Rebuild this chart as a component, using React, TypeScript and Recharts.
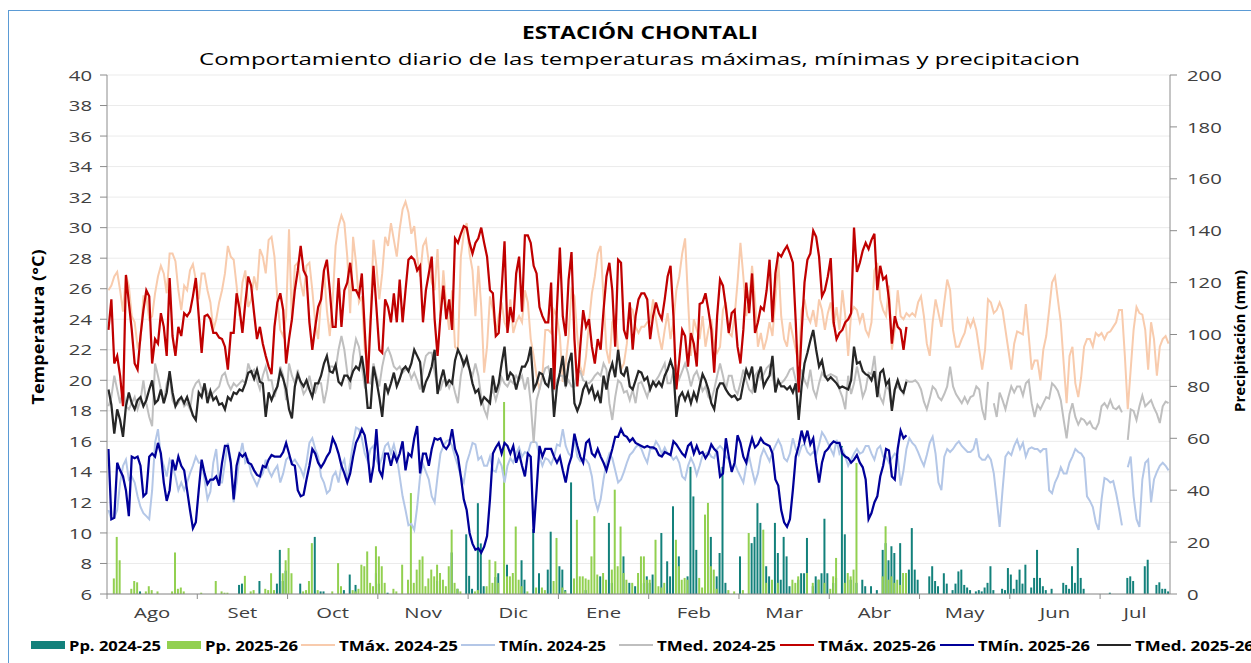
import React from 'react';
import { ComposedChart, Line, Bar, XAxis, YAxis, CartesianGrid } from 'recharts';

// season runs Aug 1 -> Jul 31, one entry per day
const MONTHS = ['Ago', 'Set', 'Oct', 'Nov', 'Dic', 'Ene', 'Feb', 'Mar', 'Abr', 'May', 'Jun', 'Jul'];
const MONTH_START = [0, 31, 62, 93, 124, 155, 186, 217, 248, 279, 310, 341];
const N_DAYS = 365;
const TEMP_TICKS = [6, 8, 10, 12, 14, 16, 18, 20, 22, 24, 26, 28, 30, 32, 34, 36, 38, 40];
const PP_TICKS = [0, 20, 40, 60, 80, 100, 120, 140, 160, 180, 200];

const TMAX_2024_25 = [
  25.9, 26.2, 26.8, 27.1, 25.9, 24.5, 26.9, 26.2, 24.2, 23.8,
  22.2, 22.6, 25.5, 25.5, 24.0, 24.2, 25.7, 26.8, 27.5, 27.0,
  25.7, 28.3, 28.3, 27.8, 25.9, 24.6, 26.2, 25.9, 27.2, 27.6,
  26.6, 25.3, 27.0, 27.0, 25.9, 25.1, 23.3, 24.0, 25.1, 25.9,
  27.0, 28.8, 28.1, 27.9, 26.2, 24.2, 26.4, 27.2, 24.8, 25.3,
  26.8, 25.9, 28.6, 28.1, 27.0, 29.2, 29.4, 28.1, 25.3, 23.3,
  22.9, 24.2, 29.9, 23.8, 27.5, 27.7, 26.4, 25.5, 27.5, 27.7,
  25.9, 23.8, 22.7, 25.3, 27.2, 24.6, 22.9, 25.3, 28.8, 30.1,
  30.8, 30.3, 28.1, 24.4, 29.4, 27.7, 25.1, 25.5, 22.0, 21.1,
  24.2, 29.2, 27.5, 25.3, 27.0, 29.4, 28.8, 30.3, 29.2, 28.1,
  29.9, 31.2, 31.7, 31.0, 29.6, 30.1, 28.1, 26.8, 28.8, 29.2,
  27.7, 26.4, 25.9, 28.6, 24.2, 27.2, 24.8, 23.3, 25.9, 22.2,
  22.0, 28.1, 29.6, 30.3, 28.3, 27.2, 24.2, 27.5, 24.8, 20.5,
  22.2, 25.5, 24.6, 23.1, 24.2, 25.1, 23.8, 23.3, 25.3, 23.1,
  23.8, 24.2, 23.8, 25.9, 25.1, 22.7, 21.6, 20.3, 19.4, 20.3,
  23.3, 23.3, 23.1, 24.6, 24.2, 22.9, 19.9, 21.1, 22.9, 25.9,
  25.5, 22.9, 20.9, 20.3, 21.6, 23.8, 25.7, 26.8, 28.3, 28.8,
  25.3, 22.0, 21.1, 23.8, 24.2, 22.0, 20.7, 21.1, 22.4, 24.8,
  24.6, 23.5, 23.1, 23.5, 23.5, 23.8, 23.8, 25.3, 24.0, 22.9,
  22.0, 23.3, 24.4, 22.7, 23.8, 25.9, 26.8, 28.3, 29.3, 25.3,
  21.6, 24.0, 23.3, 22.7, 24.2, 22.2, 23.3, 24.0, 22.3, 21.8,
  22.2, 24.6, 25.1, 23.1, 22.9, 24.2, 26.4, 29.0, 26.8, 24.2,
  25.3, 27.5, 25.3, 22.2, 23.1, 22.0, 22.7, 23.8, 22.9, 25.3,
  27.9, 24.2, 22.7, 22.2, 23.8, 22.9, 22.0, 21.1, 24.6, 25.3,
  24.2, 23.8, 24.6, 23.5, 25.3, 24.6, 23.3, 24.4, 25.1, 23.5,
  24.8, 23.3, 25.9, 24.2, 21.6, 24.4, 24.8, 24.6, 23.8, 24.4,
  23.3, 22.9, 23.8, 27.2, 27.7, 25.3, 24.6, 24.2, 26.2, 22.0,
  23.3, 25.9, 24.2, 24.0, 24.4, 24.2, 24.4, 24.2, 25.1, 25.5,
  24.2, 22.4, 21.6, 23.8, 25.3, 24.4, 23.5, 25.1, 26.6, 25.9,
  23.3, 22.2, 22.2, 22.7, 23.1, 24.0, 23.5, 24.0, 23.3, 22.0,
  20.7, 22.0, 25.3, 25.1, 24.4, 24.6, 25.1, 24.6, 23.3, 22.0,
  20.7, 22.4, 23.2, 23.1, 23.0, 25.0, 22.9, 20.7, 21.3, 21.3,
  20.0, 22.0, 22.9, 24.6, 26.4, 26.8, 25.3, 23.8, 21.1, 18.5,
  21.6, 22.2, 19.8, 18.9, 20.2, 22.2, 22.7, 22.7, 22.2, 23.1,
  22.9, 23.1, 22.7, 23.1, 23.2, 23.5, 23.8, 24.6, 24.6, 21.6,
  18.1, 20.7, 23.3, 24.8, 24.4, 24.3, 23.3, 20.7, 23.8, 22.7,
  20.3, 22.2, 22.7, 22.9, 22.4,
];

const TMIN_2024_25 = [
  11.5, 10.9, 11.0, 11.5, 13.3, 14.4, 14.8, 13.5, 13.7, 13.3,
  12.4, 11.7, 11.3, 11.1, 10.9, 12.8, 15.9, 16.8, 15.0, 14.4,
  13.7, 14.8, 14.4, 13.7, 12.8, 13.3, 12.8, 13.3, 13.9, 14.4,
  15.0, 14.6, 14.6, 13.5, 12.2, 12.7, 14.6, 15.5, 13.3, 13.3,
  14.6, 15.9, 14.8, 12.0, 13.3, 15.0, 15.9, 14.6, 14.8, 13.9,
  13.5, 13.1, 13.6, 13.9, 14.8, 14.1, 13.7, 14.1, 14.4, 13.3,
  13.9, 14.8, 15.0, 14.6, 14.8, 14.5, 14.2, 13.7, 14.6, 15.9,
  16.2, 15.5, 15.0, 13.7, 13.3, 12.6, 12.8, 13.7, 14.0, 13.3,
  14.4, 14.8, 13.5, 14.6, 15.9, 16.9, 16.8, 16.2, 15.2, 14.7,
  15.5, 15.7, 14.8, 14.4, 15.0, 15.7, 15.9, 15.2, 15.8, 15.0,
  13.7, 12.4, 11.5, 10.5, 10.6, 10.2, 11.7, 13.7, 14.5, 14.0,
  13.5, 12.4, 12.0, 13.7, 15.2, 15.7, 16.0, 16.1, 15.7, 15.0,
  14.4, 13.7, 13.3, 14.6, 15.2, 15.9, 15.8, 14.8, 15.0, 14.4,
  14.4, 15.0, 14.1, 14.0, 14.8, 14.4, 13.3, 14.4, 14.9, 14.6,
  15.2, 15.6, 15.0, 15.3, 15.2, 15.9, 16.0, 15.9, 15.0, 14.4,
  14.9, 14.8, 14.5, 15.0, 15.8, 15.7, 16.8, 15.7, 15.2, 15.0,
  16.1, 15.0, 14.7, 14.9, 14.8, 14.5, 13.7, 12.2, 11.5, 12.2,
  13.5, 14.6, 15.2, 14.9, 14.1, 13.3, 13.5, 14.0, 14.6, 15.1,
  15.3, 15.6, 15.8, 15.5, 15.0, 14.6, 15.5, 15.5, 16.0, 15.7,
  15.2, 15.6, 15.2, 15.1, 14.8, 15.0, 14.6, 13.7, 13.5, 14.4,
  14.9, 14.5, 13.8, 14.4, 15.1, 15.2, 15.3, 15.0, 14.9, 15.5,
  15.7, 15.5, 15.0, 14.8, 14.1, 14.6, 14.1, 13.7, 13.3, 14.4,
  15.0, 14.1, 13.3, 13.9, 15.0, 15.5, 15.1, 14.7, 15.3, 15.7,
  16.1, 15.7, 14.9, 14.7, 15.2, 16.2, 15.5, 15.1, 15.7, 15.8,
  15.3, 15.1, 15.3, 15.1, 15.8, 16.6, 16.3, 15.9, 15.5, 15.1,
  16.1, 15.2, 15.5, 15.0, 14.4, 14.8, 15.2, 15.5, 15.2, 15.3,
  15.7, 15.7, 15.2, 14.8, 15.5, 15.7, 15.0, 15.0, 14.6, 14.9,
  15.2, 15.0, 13.1, 14.1, 15.5, 16.2, 15.9, 15.7, 15.3, 14.8,
  14.4, 15.1, 15.9, 16.3, 15.2, 13.3, 12.8, 15.0, 15.5, 15.3,
  15.5, 15.8, 16.0, 15.7, 15.5, 15.3, 15.3, 15.5, 16.2, 15.0,
  14.8, 14.8, 15.1, 14.8, 13.9, 12.2, 10.4, 12.8, 15.0, 15.3,
  15.1, 15.7, 16.1, 15.5, 15.9, 15.0, 15.5, 15.6, 15.5, 15.5,
  15.3, 15.5, 15.5, 12.8, 12.6, 13.3, 13.7, 14.3, 13.9, 13.9,
  14.6, 15.0, 15.5, 15.3, 15.2, 14.9, 12.4, 12.1, 11.7, 10.7,
  10.2, 12.2, 13.6, 13.5, 13.3, 13.4, 12.6, 11.6, 10.5, null,
  14.3, 15.0, 12.4, 10.9, 10.4, 13.5, 14.6, 14.8, 12.0, 13.5,
  14.0, 14.4, 14.6, 14.4, 14.1,
];

const TMED_2024_25 = [
  18.3, 18.9, 20.3, 19.4, 18.5, 19.4, 18.3, 18.1, 18.5, 18.9,
  18.1, 18.7, 20.0, 18.5, 17.6, 17.0, 21.1, 20.3, 19.4, 18.5,
  19.8, 20.3, 18.7, 18.3, 18.5, 18.9, 18.3, 18.5, 18.1, 19.4,
  19.8, 20.0, 19.4, 19.6, 19.2, 18.9, 19.2, 19.4, 19.6, 20.3,
  20.5, 19.8, 19.4, 19.8, 19.6, 19.8, 20.0, 19.8, 21.1, 20.5,
  20.7, 20.0, 19.4, 20.3, 20.9, 20.0, 20.0, 18.9, 19.6, 20.9,
  20.3, 18.7, 21.1, 20.3, 19.8, 20.7, 19.8, 19.1, 19.4, 20.3,
  19.4, 19.2, 19.8, 19.8, 18.5, 19.4, 20.9, 20.9, 20.7, 22.0,
  22.9, 22.0, 20.5, 19.4, 21.6, 22.7, 22.2, 20.9, 19.6, 19.9,
  19.8, 21.1, 20.3, 19.6, 20.9, 21.8, 22.1, 21.6, 20.9, 20.7,
  20.9, 20.5, 20.7, 20.7, 20.1, 20.5, 20.0, 19.4, 20.7, 21.6,
  21.8, 21.8, 20.5, 19.6, 19.4, 20.0, 20.0, 19.5, 20.0, 19.2,
  18.5, 20.3, 21.3, 21.1, 20.7, 20.3, 21.1, 20.3, 18.9, 18.1,
  17.6, 18.9, 19.4, 18.7, 19.4, 20.2, 19.8, 19.6, 20.0, 19.8,
  20.3, 20.0, 20.3, 19.4, 20.2, 18.5, 15.9, 18.7, 19.4, 20.2,
  20.8, 20.9, 20.0, 19.4, 20.0, 20.3, 20.3, 19.6, 20.0, 19.6,
  19.6, 20.5, 20.6, 20.0, 19.9, 19.8, 20.0, 20.3, 20.5, 20.3,
  21.1, 20.7, 18.5, 17.4, 18.9, 20.0, 19.8, 19.2, 19.3, 18.7,
  19.4, 18.5, 19.8, 19.9, 19.4, 18.9, 19.6, 19.8, 20.0, 20.3,
  20.7, 21.1, 19.8, 19.8, 20.6, 20.9, 20.1, 20.6, 21.1, 20.5,
  19.6, 20.3, 20.6, 20.0, 19.3, 19.6, 18.9, 18.7, 19.4, 20.3,
  21.1, 20.3, 19.4, 20.3, 20.3, 19.4, 19.1, 19.8, 20.7, 20.0,
  19.4, 19.2, 20.3, 20.6, 20.1, 20.4, 20.8, 21.0, 20.3, 19.4,
  19.8, 19.8, 20.0, 20.3, 20.7, 20.8, 20.0, 19.6, 20.7, 20.0,
  19.6, 20.7, 19.4, 18.9, 19.8, 20.5, 20.2, 20.3, 20.4, 20.3,
  20.2, 19.4, 18.9, 18.1, 20.3, 19.1, 19.8, 20.9, 20.0, 18.9,
  19.4, 20.5, 20.4, 21.6, 19.6, 18.9, 18.5, 19.6, 19.4, 18.1,
  19.4, 19.6, 19.4, 19.1, 20.0, 19.9, 19.9, 20.0, 19.8, 19.4,
  18.6, 18.1, 18.8, 19.6, 19.4, 18.9, 18.7, 19.1, 19.6, 20.9,
  19.6, 19.1, 18.8, 18.5, 18.9, 18.5, 18.9, 19.0, 19.6, 19.4,
  18.1, 17.4, 19.9, null, 18.5, 17.6, 19.2, 18.7, 18.1, 18.9,
  19.6, 19.2, 19.6, 19.6, 19.0, 19.8, 20.0, 18.5, 17.6, 18.4,
  18.1, 18.5, 18.9, 18.8, 19.8, 19.6, 19.3, 18.7, 17.4, 16.2,
  17.8, 18.5, 17.6, 17.1, 17.5, 17.4, 17.1, 17.3, 16.9, 16.8,
  17.2, 18.3, 18.5, 18.2, 18.7, 18.2, 18.1, 18.3, 17.9, null,
  16.1, 18.1, 18.0, 17.4, 18.3, 19.0, 18.3, 18.5, 18.7, 18.2,
  17.8, 17.2, 18.3, 18.6, 18.5,
];

const TMAX_2025_26 = [
  23.3, 25.3, 21.1, 21.6, 20.3, 18.3, 26.9, 25.1, 23.3, 21.1,
  20.7, 22.9, 24.6, 25.9, 25.5, 21.1, 22.7, 22.4, 24.4, 23.5,
  21.6, 26.7, 22.9, 21.6, 23.5, 22.9, 24.4, 24.2, 24.5, 25.5,
  26.7, 24.2, 21.8, 24.2, 24.3, 24.0, 23.1, 23.1, 22.8, 22.7,
  22.2, 20.7, 23.1, 23.1, 25.7, 24.7, 23.1, 25.1, 26.8, 26.2,
  24.4, 22.7, 23.5, 22.4, 21.6, 20.9, 20.4, 23.5, 25.1, 25.7,
  24.6, 21.1, 22.7, 24.0, 25.9, 27.2, 28.8, 27.2, 26.8, 23.8,
  22.0, 23.5, 24.8, 25.3, 27.2, 27.9, 25.9, 23.5, 23.5, 26.7,
  23.5, 25.9, 26.4, 27.7, 25.9, 25.9, 25.5, 27.0, 23.3, 19.8,
  23.8, 27.5, 24.8, 22.0, 21.8, 25.3, 24.8, 23.8, 25.7, 23.8,
  26.6, 23.8, 25.9, 27.9, 28.1, 27.9, 27.2, 27.5, 23.8, 25.9,
  27.0, 28.1, 24.0, 21.6, 24.2, 26.2, 24.0, 25.3, 23.3, 29.3,
  29.0, 29.6, 30.1, 30.0, 29.0, 28.3, 29.0, 29.3, 30.0, 29.0,
  28.1, 25.9, 25.7, 22.9, 23.1, 25.9, 29.1, 23.1, 24.8, 23.8,
  27.0, 28.1, 24.5, 29.5, 29.5, 29.0, 27.5, 27.0, 24.8, 24.2,
  23.8, 23.8, 26.4, 19.4, 24.8, 28.7, 24.2, 22.9, 26.6, 28.4,
  22.7, 19.6, 22.2, 24.6, 23.5, 24.0, 22.2, 21.1, 22.7, 22.0,
  24.6, 26.8, 27.7, 25.9, 22.2, 27.9, 27.7, 23.3, 22.7, 25.1,
  22.0, 24.2, 25.3, 25.7, 25.7, 25.3, 22.7, 24.2, 25.1, 24.4,
  24.0, 25.3, 26.8, 27.5, 24.2, 19.4, 21.3, 23.3, 22.9, 20.9,
  23.1, 22.4, 20.9, 25.0, 25.1, 25.7, 24.6, 23.3, 20.5, 24.2,
  26.6, 26.2, 24.8, 23.1, 24.4, 24.6, 22.2, 21.1, 23.3, 26.4,
  24.4, 27.0, 23.1, 23.8, 24.8, 24.6, 25.9, 27.9, 23.8, 27.0,
  28.3, 28.1, 28.5, 28.8, 28.3, 27.7, 23.8, 19.2, 23.1, 26.4,
  27.9, 28.3, 29.8, 29.4, 28.1, 25.5, 25.9, 26.8, 28.0, 23.8,
  22.7, 23.1, 23.3, 23.8, 24.0, 24.4, 30.0, 27.1, 27.7, 28.5,
  29.0, 28.6, 29.2, 29.6, 25.9, 27.5, 26.6, 26.8, 25.3, 22.4,
  24.2, 23.5, 23.3, 22.0, 23.5,
];

const TMIN_2025_26 = [
  15.5, 10.9, 11.0, 14.6, 14.1, 13.7, 12.8, 11.1, 15.0, 14.9,
  15.0, 14.4, 12.4, 12.6, 15.0, 15.2, 15.0, 15.9, 15.2, 13.3,
  12.1, 12.8, 14.8, 14.1, 15.0, 14.4, 14.1, 12.8, 11.5, 10.3,
  10.7, 12.8, 14.8, 13.9, 13.2, 13.5, 13.5, 13.7, 13.1, 14.6,
  15.7, 15.7, 14.6, 12.2, 14.4, 15.2, 15.0, 15.2, 14.6, 14.5,
  14.1, 13.8, 13.7, 14.4, 14.3, 14.8, 15.1, 15.0, 15.0, 15.0,
  15.3, 15.9, 15.2, 14.5, 14.4, 12.8, 12.4, 12.5, 13.5, 14.4,
  15.5, 15.2, 14.6, 14.3, 14.6, 15.0, 15.3, 16.2, 15.8, 15.2,
  14.4, 13.9, 13.3, 13.9, 15.0, 15.9, 16.3, 16.8, 16.4, 15.2,
  13.3, 14.4, 16.8, 14.1, 13.7, 15.2, 15.2, 14.4, 15.2, 14.7,
  15.2, 16.0, 14.1, 15.2, 15.0, 16.2, 17.0, 13.9, 15.2, 15.2,
  14.4, 15.5, 16.2, 16.1, 16.2, 15.7, 15.5, 15.8, 16.8, 15.5,
  15.0, 13.7, 12.2, 11.5, 10.0, 9.3, 8.9, 9.0, 8.7, 9.1,
  9.8, 12.2, 15.2, 15.6, 15.9, 15.2, 15.9, 15.7, 15.2, 15.7,
  14.6, 15.2, 14.4, 13.7, 15.2, 15.0, 10.0, 12.8, 15.7, 15.0,
  15.5, 15.5, 15.5, 15.0, 14.6, 15.0, 14.1, 13.3, 14.4, 15.0,
  16.5, 15.7, 15.0, 14.6, 15.9, 16.1, 15.2, 15.0, 15.5, 15.0,
  14.6, 14.1, 14.8, 15.5, 16.3, 16.3, 16.8, 16.4, 16.3, 16.0,
  16.2, 15.9, 15.8, 15.7, 15.6, 15.7, 15.6, 15.6, 15.5, 15.1,
  15.0, 15.3, 15.2, 15.1, 16.0, 15.8, 15.5, 15.2, 15.0, 15.7,
  15.9, 15.2, 15.7, 15.2, 15.3, 14.9, 15.2, 15.8, 15.5, 15.3,
  13.7, 13.9, 16.2, 15.0, 14.0, 14.6, 16.4, 15.9, 15.0, 14.6,
  15.5, 16.2, 15.6, 15.8, 16.2, 15.9, 15.8, 15.7, 15.2, 13.5,
  13.1, 11.5, 10.7, 10.4, 10.9, 12.8, 15.0, 15.7, 16.7, 16.0,
  16.7, 15.8, 16.2, 14.6, 13.3, 14.6, 15.3, 15.5, 15.8, 16.0,
  15.9, 15.9, 15.2, 15.0, 14.9, 14.6, 14.8, 15.1, 14.6, 14.3,
  13.5, 10.9, 11.3, 12.0, 12.4, 13.7, 14.4, 15.5, 15.4, 13.7,
  13.5, 15.5, 16.7, 16.2, 16.4,
];

const TMED_2025_26 = [
  19.4, 18.4, 16.5, 18.1, 17.4, 16.3, 18.3, 19.2, 18.5, 18.1,
  18.7, 18.9, 18.3, 18.7, 19.4, 20.0, 18.5, 18.7, 19.4, 18.5,
  19.2, 20.6, 19.2, 18.3, 18.7, 18.9, 18.5, 18.9, 18.3, 17.7,
  17.4, 19.2, 18.9, 19.8, 18.5, 19.3, 18.7, 18.9, 18.4, 18.5,
  18.1, 18.9, 18.7, 19.2, 19.1, 19.4, 19.3, 19.8, 20.5, 20.6,
  20.1, 20.7, 19.9, 19.8, 17.6, 19.2, 18.7, 19.2, 19.6, 20.6,
  20.1, 19.4, 18.1, 17.5, 19.6, 20.4, 19.9, 19.6, 20.0, 19.4,
  18.9, 19.8, 19.8, 20.3, 21.1, 21.6, 20.6, 20.5, 21.0, 19.9,
  19.7, 20.3, 20.3, 20.0, 20.6, 20.9, 20.7, 21.6, 20.3, 18.2,
  18.2, 20.9, 20.0, 18.9, 17.6, 19.8, 19.2, 19.8, 20.5, 19.6,
  20.1, 20.7, 20.9, 20.6, 21.1, 22.0, 21.6, 21.2, 19.2, 19.9,
  20.3, 20.9, 22.0, 19.1, 20.0, 20.7, 19.7, 20.0, 19.8, 21.3,
  22.0, 21.6, 21.0, 21.5, 20.7, 19.8, 19.2, 19.4, 18.5, 18.9,
  18.7, 18.5, 20.3, 19.2, 19.8, 21.1, 22.2, 20.0, 20.5, 20.3,
  19.4, 20.2, 20.9, 20.9, 21.3, 22.2, 19.4, 19.8, 20.5, 20.4,
  19.8, 19.6, 20.8, 17.6, 19.6, 20.5, 21.6, 19.6, 21.1, 21.8,
  18.5, 18.0, 18.5, 19.4, 19.8, 19.2, 19.6, 18.8, 19.2, 18.5,
  20.3, 19.4, 20.5, 21.1, 20.2, 22.0, 20.5, 20.3, 20.9, 19.6,
  19.4, 20.0, 20.6, 20.5, 20.0, 20.2, 19.4, 19.9, 19.6, 19.9,
  19.6, 20.3, 20.7, 21.3, 20.7, 17.6, 18.9, 19.2, 18.7, 19.2,
  18.5, 19.2, 18.7, 19.6, 20.4, 20.0, 19.4, 18.5, 18.1, 19.4,
  19.8, 19.8, 19.4, 19.1, 18.9, 19.0, 18.7, 18.8, 19.8, 20.7,
  20.2, 20.9, 19.2, 20.3, 20.9, 19.6, 20.0, 20.3, 21.6, 19.2,
  20.0, 19.6, 19.6, 19.4, 19.6, 19.2, 19.8, 17.4, 19.6, 21.1,
  21.8, 22.6, 23.3, 22.0, 20.9, 21.3, 20.3, 20.0, 20.2, 20.0,
  19.8, 19.5, 19.6, 19.5, 19.4, 20.0, 22.2, 21.1, 21.2, 20.6,
  20.4, 20.3, 20.0, 20.6, 18.9, 20.5, 20.7, 19.7, 20.0, 18.0,
  19.4, 20.0, 19.4, 19.2, 19.9,
];

// daily rain, [day, mm]; days not listed had no rain
const PP_2024_25 = [
  [11, 1], [45, 3.5], [46, 4], [52, 5], [58, 4], [59, 17], [60, 5], [61, 9],
  [66, 4], [71, 22], [73, 1], [74, 1], [81, 1.5], [83, 7.5], [85, 3.5], [92, 8], [93, 4], [96, 0.5],
  [113, 5], [118, 16], [120, 2], [123, 23], [124, 7],
  [125, 2], [127, 35], [128, 19.5], [129, 3], [133, 6.5], [134, 8], [137, 11.3], [142, 13], [143, 5.5],
  [146, 25], [148, 8], [151, 9.4], [152, 24], [155, 10.7], [156, 9.4],
  [157, 1.5], [159, 43], [164, 1.5], [169, 6.8], [171, 4.3], [172, 27.4], [173, 4.3], [177, 14.5],
  [179, 4.3], [181, 3], [184, 4.3], [185, 6.8],
  [186, 4.3], [187, 7.5], [190, 23.5], [192, 12.6], [193, 6.8], [194, 33.8], [196, 14.5], [199, 6.8],
  [200, 49], [201, 37.6], [202, 17], [207, 22], [209, 6.8], [210, 15.8], [211, 49], [212, 4.3],
  [217, 14.5], [221, 19.6], [222, 22], [223, 35], [224, 27.4], [226, 10.7], [227, 6.8], [229, 27.4],
  [230, 15.8], [231, 5.5], [232, 22], [233, 14.5], [234, 3], [237, 5.5], [238, 8], [239, 8], [240, 21.6],
  [242, 3], [243, 6.8], [244, 5.5], [245, 8], [246, 29], [247, 8], [249, 4.3],
  [250, 6.2], [252, 57], [253, 23], [255, 5.5], [257, 4.3], [259, 5.5], [260, 3], [262, 3], [264, 1.5],
  [266, 17], [267, 19.6], [268, 13], [269, 18.4], [270, 15.8], [272, 19.6], [274, 4.3], [275, 9.4],
  [276, 25.4], [277, 9.4], [278, 5.5],
  [282, 6.8], [283, 10.7], [284, 5], [285, 3], [287, 8], [288, 4], [290, 1.5], [291, 4], [292, 8.7],
  [293, 9.4], [294, 3.5], [295, 2.5], [296, 1.5], [298, 1], [299, 1.5], [300, 1], [301, 2.5], [302, 4.3],
  [303, 10.7], [304, 1.5], [307, 2], [308, 1.5], [309, 10],
  [310, 7.5], [311, 2], [312, 5.5], [313, 9.4], [314, 4], [315, 11.3], [317, 2.5], [318, 6.2], [319, 17],
  [320, 6.2], [321, 3], [322, 1.5], [324, 2], [328, 4.3], [329, 3.5], [330, 2], [331, 10.7], [332, 4.3],
  [333, 17.7], [334, 6.2], [335, 2],
  [344, 0.5], [350, 6.2], [351, 6.8], [352, 5], [356, 10.7], [357, 13.2], [360, 3.5], [361, 4.5],
  [362, 2], [363, 2], [364, 1],
];

const PP_2025_26 = [
  [2, 6], [3, 22], [4, 13], [8, 2], [9, 5], [10, 4.5], [13, 1], [14, 3], [15, 1.5], [17, 1], [22, 1],
  [23, 16], [24, 2], [25, 2.5], [26, 1], [32, 0.5], [37, 5], [39, 1], [40, 0.5], [41, 0.5], [47, 7],
  [49, 1], [50, 1.5], [54, 2], [55, 1.5], [56, 8], [57, 1.5], [60, 8], [61, 13],
  [62, 17.7], [63, 8], [67, 1], [68, 1.5], [69, 5], [70, 19.6], [72, 1.5], [77, 1], [79, 11.9], [80, 3],
  [84, 1.5], [85, 1], [86, 2], [87, 11.3], [88, 10.7], [89, 16.4], [90, 4.3], [91, 3], [92, 18.4],
  [93, 14.5], [94, 10.7], [95, 4.3],
  [98, 2], [99, 1], [101, 11.3], [103, 5.5], [104, 38.9], [105, 4.3], [106, 9.4], [107, 13.2], [108, 14.5],
  [109, 3], [110, 6], [111, 9.4], [112, 6.8], [113, 11.3], [114, 8.1], [115, 5.5], [116, 3], [117, 10.7],
  [118, 24.8], [119, 4.3], [120, 2], [121, 1],
  [126, 1], [127, 1.5], [130, 3], [131, 13.2], [132, 4.3], [133, 12.6], [134, 4.3], [136, 74], [137, 6.8],
  [138, 6.8], [139, 8.1], [140, 26], [141, 5.5], [142, 3], [144, 1], [147, 2.5], [149, 2.5], [150, 1.5],
  [153, 5], [154, 21.6], [156, 2.5],
  [157, 1], [160, 6], [161, 28.6], [162, 6.8], [163, 6.8], [164, 6], [165, 5.5], [166, 14.5], [167, 30],
  [168, 7.5], [170, 8.1], [171, 5.5], [173, 9.4], [174, 40.2], [175, 10.7], [176, 26], [177, 8.1],
  [178, 5.5], [180, 4.3], [182, 8.1], [183, 14.5], [184, 14.5], [185, 5.5],
  [186, 5.5], [188, 20.9], [189, 3], [190, 2.5], [191, 4.3], [195, 20.9], [196, 10.7], [197, 5.5],
  [198, 6.2], [199, 5.5], [203, 6.2], [204, 2.5], [205, 30.6], [206, 35.1], [207, 10.7], [208, 9.4],
  [209, 2], [213, 1.5], [215, 1],
  [218, 1.5], [220, 23.5], [225, 24.8], [226, 4.3], [228, 5.5], [230, 4.3], [235, 5.5], [236, 4.3],
  [237, 6.8], [240, 8.1], [242, 4.3], [244, 5.5], [246, 4.3], [248, 2], [249, 6.8],
  [250, 13.9], [253, 4.3], [254, 8.1], [255, 6.8], [256, 9.4], [257, 50.5], [266, 6.8], [267, 26.1],
  [268, 5.5], [269, 6.8], [270, 4.3], [271, 5.5], [272, 3.5], [273, 8.1], [274, 8.1],
];

const C = {
  pp24: '#13817B',
  pp25: '#92D050',
  tmax24: '#F8CBAD',
  tmin24: '#B4C7E7',
  tmed24: '#BFBFBF',
  tmax25: '#C00000',
  tmin25: '#000099',
  tmed25: '#262626',
};

const PLOT_LEFT = 107;
const PLOT_RIGHT = 1170;
const PLOT_TOP = 75;
const PLOT_BOTTOM = 594;
const PX_PER_DAY = (PLOT_RIGHT - PLOT_LEFT) / N_DAYS;
// the source picture is stretched sideways, so its text is too
const STRETCH = 1.45;
const FONT = 'Open Sans';

const pp24 = new Map(PP_2024_25 as [number, number][]);
const pp25 = new Map(PP_2025_26 as [number, number][]);

const data = Array.from({ length: N_DAYS }, (_, i) => ({
  x: i + 0.5,
  pp24: pp24.get(i) ?? null,
  pp25: pp25.get(i) ?? null,
  tmax24: TMAX_2024_25[i] ?? null,
  tmin24: TMIN_2024_25[i] ?? null,
  tmed24: TMED_2024_25[i] ?? null,
  tmax25: TMAX_2025_26[i] ?? null,
  tmin25: TMIN_2025_26[i] ?? null,
  tmed25: TMED_2025_26[i] ?? null,
}));

const stretchAt = (x: number, y: number) => `translate(${x} ${y}) scale(${STRETCH} 1) translate(${-x} ${-y})`;

function StretchedTick(props: any) {
  const { x, y, payload, anchor } = props;
  return (
    <text x={x} y={y} textAnchor={anchor} dominantBaseline="central" transform={stretchAt(x, y)}
      fontFamily={FONT} fontSize={14} fill="#404040">
      {payload.value}
    </text>
  );
}

function MonthTick(props: any) {
  const { x, payload } = props;
  const idx = MONTH_START.indexOf(payload.value);
  if (idx < 0) return null;
  const end = idx + 1 < MONTH_START.length ? MONTH_START[idx + 1] : N_DAYS;
  const cx = x + ((end - payload.value) / 2) * PX_PER_DAY;
  const cy = PLOT_BOTTOM + 18;
  return (
    <text x={cx} y={cy} textAnchor="middle" dominantBaseline="central" transform={stretchAt(cx, cy)}
      fontFamily={FONT} fontSize={14} fill="#404040">
      {MONTHS[idx]}
    </text>
  );
}

const legendItems = [
  { label: 'Pp. 2024-25', color: C.pp24, kind: 'box', left: 31, w: 92 },
  { label: 'Pp. 2025-26', color: C.pp25, kind: 'box', left: 167, w: 93 },
  { label: 'TMáx. 2024-25', color: C.tmax24, kind: 'line', left: 301, w: 119 },
  { label: 'TMín. 2024-25', color: C.tmin24, kind: 'line', left: 461, w: 107 },
  { label: 'TMed. 2024-25', color: C.tmed24, kind: 'line', left: 619, w: 119 },
  { label: 'TMáx. 2025-26', color: C.tmax25, kind: 'line', left: 780, w: 118 },
  { label: 'TMín. 2025-26', color: C.tmin25, kind: 'line', left: 940, w: 112 },
  { label: 'TMed. 2025-26', color: C.tmed25, kind: 'line', left: 1097, w: 119 },
];

export default function App() {
  return (
    <div style={{ position: 'absolute', left: 0, top: 0, width: 1251, height: 663, overflow: 'hidden', background: '#fff' }}>
      {/* chart frame */}
      <div style={{ position: 'absolute', left: 8, top: 10, width: 1300, height: 700, borderLeft: '1.5px solid #5B9BD5', borderTop: '1.5px solid #5B9BD5' }} />

      <ComposedChart
        width={1251}
        height={663}
        data={data}
        margin={{ top: PLOT_TOP, right: 0, bottom: 0, left: 0 }}
        barGap={-2}
        style={{ position: 'absolute', left: 0, top: 0 }}
      >
        <CartesianGrid yAxisId="t" vertical={false} stroke="#EBEBEB" />
        <XAxis
          dataKey="x"
          type="number"
          domain={[0, N_DAYS]}
          ticks={MONTH_START}
          interval={0}
          height={663 - PLOT_BOTTOM}
          tick={<MonthTick />}
          tickSize={5}
          axisLine={{ stroke: '#8C8C8C' }}
          tickLine={{ stroke: '#8C8C8C' }}
        />
        <YAxis
          yAxisId="t"
          domain={[6, 40]}
          ticks={TEMP_TICKS}
          interval={0}
          width={PLOT_LEFT}
          tickSize={7}
          tickMargin={8}
          tick={<StretchedTick anchor="end" />}
          axisLine={{ stroke: '#8C8C8C' }}
          tickLine={{ stroke: '#8C8C8C' }}
        />
        <YAxis
          yAxisId="pp"
          orientation="right"
          domain={[0, 200]}
          ticks={PP_TICKS}
          interval={0}
          width={1251 - PLOT_RIGHT}
          tickSize={7}
          tickMargin={10}
          tick={<StretchedTick anchor="start" />}
          axisLine={{ stroke: '#8C8C8C' }}
          tickLine={{ stroke: '#8C8C8C' }}
        />
        <Bar yAxisId="pp" dataKey="pp24" fill={C.pp24} barSize={2} isAnimationActive={false} />
        <Bar yAxisId="pp" dataKey="pp25" fill={C.pp25} barSize={2} isAnimationActive={false} />
        <Line yAxisId="t" type="linear" dataKey="tmax24" stroke={C.tmax24} strokeWidth={2} dot={false} isAnimationActive={false} />
        <Line yAxisId="t" type="linear" dataKey="tmin24" stroke={C.tmin24} strokeWidth={2} dot={false} isAnimationActive={false} />
        <Line yAxisId="t" type="linear" dataKey="tmed24" stroke={C.tmed24} strokeWidth={2} dot={false} isAnimationActive={false} />
        <Line yAxisId="t" type="linear" dataKey="tmax25" stroke={C.tmax25} strokeWidth={2.25} dot={false} isAnimationActive={false} />
        <Line yAxisId="t" type="linear" dataKey="tmin25" stroke={C.tmin25} strokeWidth={2.25} dot={false} isAnimationActive={false} />
        <Line yAxisId="t" type="linear" dataKey="tmed25" stroke={C.tmed25} strokeWidth={2.25} dot={false} isAnimationActive={false} />
      </ComposedChart>

      {/* titles, axis titles and legend */}
      <svg width={1251} height={663} style={{ position: 'absolute', left: 0, top: 0, pointerEvents: 'none' }} fontFamily={FONT}>
        <text x={640} y={38.5} textAnchor="middle" fontWeight={700} fontSize={17} textLength={236} lengthAdjust="spacingAndGlyphs">
          ESTACIÓN CHONTALI
        </text>
        <text x={639.5} y={64.5} textAnchor="middle" fontSize={17} textLength={881} lengthAdjust="spacingAndGlyphs">
          Comportamiento diario de las temperaturas máximas, mínimas y precipitacion
        </text>
        <text x={38} y={327} textAnchor="middle" dominantBaseline="central" fontWeight={700} fontSize={16}
          textLength={155} lengthAdjust="spacingAndGlyphs" transform="rotate(-90 38 327)">
          Temperatura (°C)
        </text>
        <text x={1239} y={341} textAnchor="middle" dominantBaseline="central" fontWeight={700} fontSize={15}
          textLength={142} lengthAdjust="spacingAndGlyphs" transform="rotate(-90 1239 341)">
          Precipitación (mm)
        </text>
        {legendItems.map((it) => (
          <g key={it.label}>
            {it.kind === 'box'
              ? <rect x={it.left} y={641} width={34} height={8} fill={it.color} />
              : <line x1={it.left} x2={it.left + 34} y1={645} y2={645} stroke={it.color} strokeWidth={2} />}
            <text x={it.left + 38} y={650.5} fontWeight={700} fontSize={15} textLength={it.w} lengthAdjust="spacingAndGlyphs">
              {it.label}
            </text>
          </g>
        ))}
      </svg>
    </div>
  );
}
